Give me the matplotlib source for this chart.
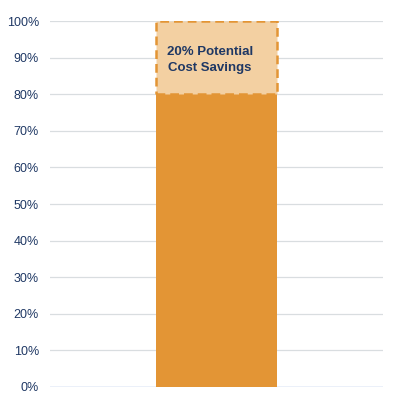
import matplotlib.pyplot as plt

plt.rcParams['font.family'] = ['Liberation Sans', 'DejaVu Sans']

categorias = ['']
actual = [80]
ahorro = [20]
ticks = [0, 10, 20, 30, 40, 50, 60, 70, 80, 90, 100]

fig = plt.figure(figsize=(4.13, 4.13), dpi=100)
ax = fig.add_axes([0.121, 0.063, 0.806, 0.886])

x = range(len(categorias))
ax.bar(x, actual, width=0.364, color='#E39535', zorder=3)
ax.bar(x, ahorro, bottom=actual, width=0.364, color='#F3D0A2', edgecolor='#E39535',
       linestyle=(0, (3.5, 2)), linewidth=1.8, zorder=3)

ax.text(-0.02, 89.3, '20% Potential\nCost Savings', ha='center', va='center',
        fontsize=9.5, fontweight='bold', color='#1F3864', linespacing=1.5, zorder=4)

ax.set_xlim(-0.5, 0.5)
ax.set_ylim(0, 100)
ax.set_yticks(ticks)
ax.set_yticklabels([f'{t}%' for t in ticks])
ax.set_xticks([])
ax.tick_params(axis='y', length=0, labelsize=9, labelcolor='#1F3864', pad=8)
for s in ax.spines.values():
    s.set_visible(False)
for t in ticks[1:]:
    ax.axhline(t, color='#D9DDE0', linewidth=0.9, zorder=1)
ax.axhline(0, color='#E8EEF8', linewidth=1.2, zorder=1)

fig.savefig('out.png', dpi=100)
